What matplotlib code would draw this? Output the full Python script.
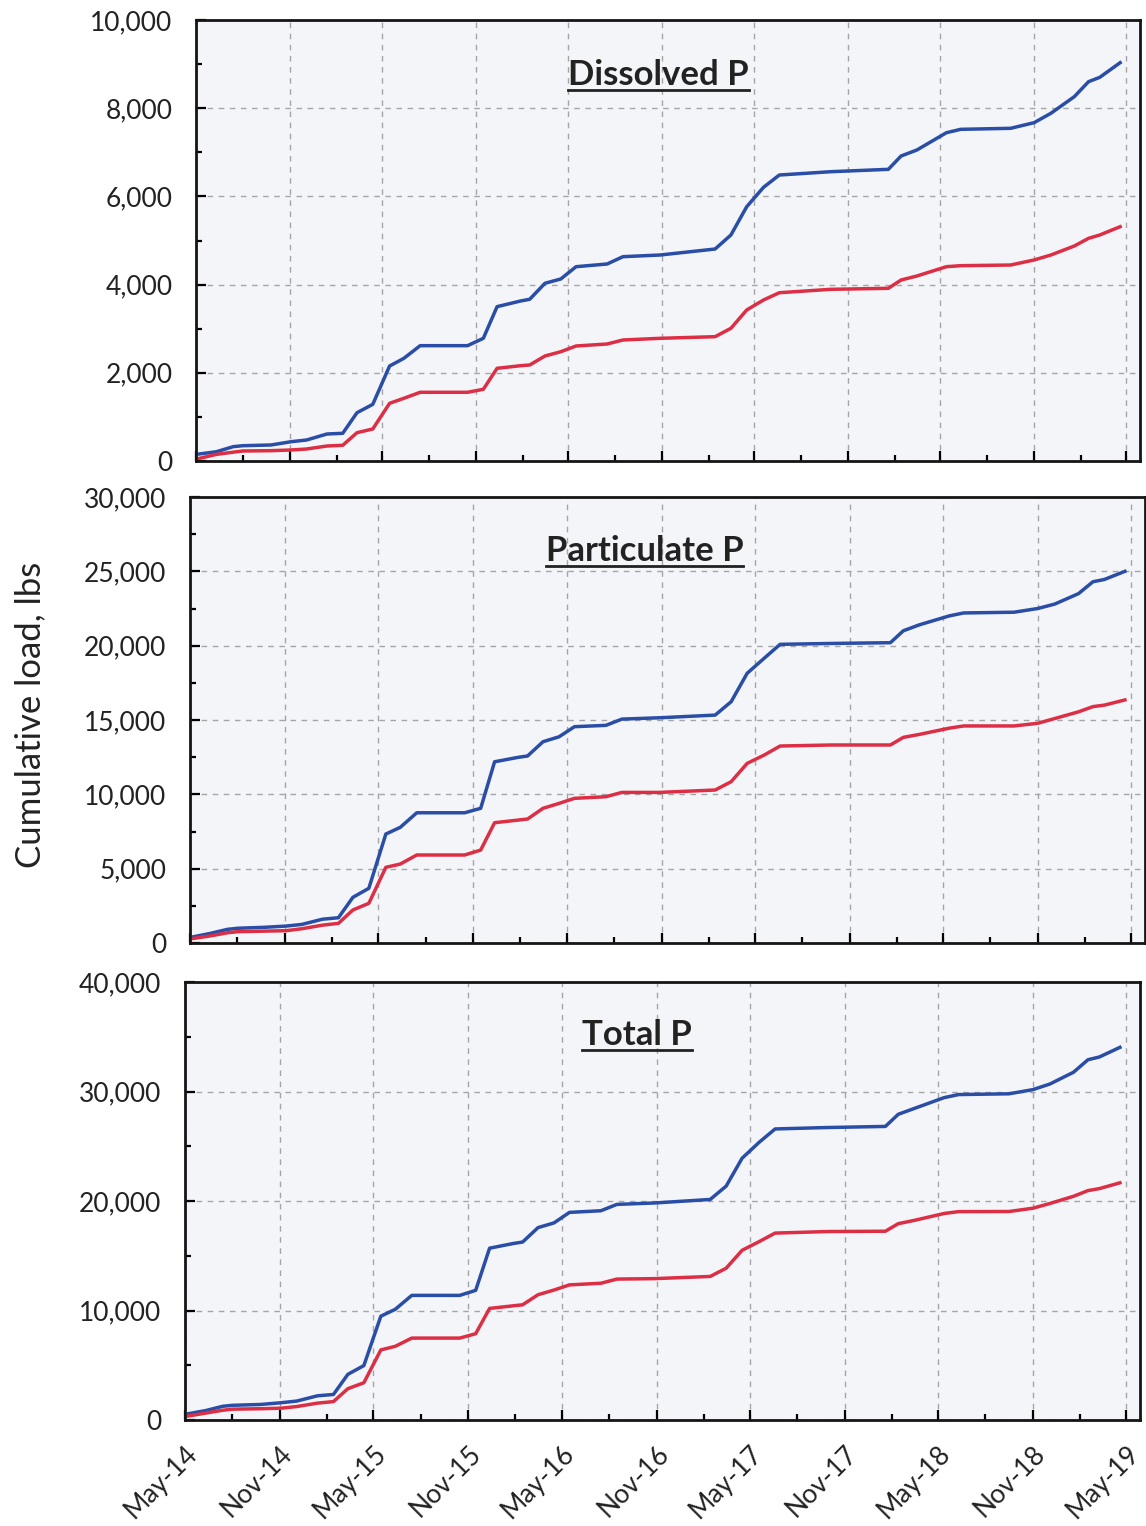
import numpy as np
import pandas as pd
import matplotlib
matplotlib.use('Agg')
import matplotlib.pyplot as plt
import matplotlib.dates as mdates
from matplotlib.lines import Line2D
from matplotlib.ticker import MultipleLocator, FuncFormatter

plt.rcParams['font.family'] = ['Lato', 'DejaVu Sans']

# sample dates (roughly monthly)
dates = pd.to_datetime([
    '2014-05-08', '2014-06-10', '2014-07-13', '2014-08-01', '2014-09-25',
    '2014-11-04', '2014-12-04', '2015-01-13', '2015-02-13', '2015-03-13',
    '2015-04-13', '2015-05-16', '2015-06-13', '2015-07-15', '2015-10-16',
    '2015-11-16', '2015-12-13', '2016-01-28', '2016-02-15', '2016-03-16',
    '2016-04-16', '2016-05-16', '2016-07-16', '2016-08-16', '2016-10-28',
    '2017-02-13', '2017-03-16', '2017-04-16', '2017-05-19', '2017-06-19',
    '2017-09-28', '2018-01-19', '2018-02-13', '2018-03-16', '2018-05-13',
    '2018-06-10', '2018-09-16', '2018-11-01', '2018-12-04', '2019-01-19',
    '2019-02-16', '2019-03-10', '2019-04-19'])

# cumulative loads, lbs  (blue = upper line, red = lower line)
dissolved_blue = [160, 210, 325, 347, 363, 438, 476, 612, 628, 1095,
                  1285, 2154, 2328, 2615, 2615, 2782, 3500, 3628, 3667, 4030,
                  4127, 4406, 4467, 4633, 4671, 4807, 5125, 5766, 6206, 6485,
                  6560, 6614, 6916, 7052, 7444, 7521, 7544, 7671, 7884, 8261,
                  8601, 8700, 9032]
dissolved_red = [60, 150, 200, 227, 234, 250, 272, 340, 356, 642,
                 726, 1308, 1422, 1558, 1558, 1626, 2102, 2161, 2177, 2381,
                 2478, 2608, 2653, 2744, 2782, 2819, 3009, 3424, 3651, 3816,
                 3893, 3916, 4104, 4195, 4406, 4429, 4444, 4558, 4671, 4875,
                 5049, 5125, 5313]

particulate_blue = [420, 650, 920, 990, 1060, 1140, 1250, 1600, 1700, 3070,
                    3680, 7330, 7780, 8760, 8760, 9060, 12190, 12490, 12580, 13540,
                    13870, 14550, 14640, 15060, 15150, 15330, 16230, 18140, 19150, 20090,
                    20150, 20200, 21000, 21400, 22000, 22200, 22250, 22500, 22800, 23500,
                    24300, 24450, 25000]
particulate_red = [310, 480, 690, 760, 800, 830, 960, 1200, 1320, 2220,
                   2670, 5090, 5310, 5920, 5920, 6250, 8090, 8270, 8340, 9060,
                   9390, 9730, 9840, 10130, 10130, 10290, 10850, 12080, 12640, 13250,
                   13320, 13320, 13830, 14030, 14450, 14600, 14600, 14780, 15100, 15550,
                   15900, 16000, 16350]

total_blue = [580, 860, 1250, 1340, 1420, 1580, 1730, 2210, 2330, 4170,
              4970, 9480, 10110, 11380, 11380, 11840, 15690, 16120, 16250, 17570,
              18000, 18960, 19110, 19690, 19820, 20140, 21360, 23910, 25360, 26580,
              26710, 26810, 27920, 28450, 29440, 29720, 29790, 30170, 30680, 31760,
              32900, 33150, 34030]
total_red = [370, 630, 890, 990, 1030, 1080, 1230, 1540, 1680, 2860,
             3400, 6400, 6730, 7480, 7480, 7880, 10190, 10430, 10520, 11440,
             11870, 12340, 12490, 12870, 12910, 13110, 13860, 15500, 16290, 17070,
             17210, 17240, 17930, 18230, 18860, 19030, 19040, 19340, 19770, 20430,
             20950, 21130, 21660]

panels = [
    ('Dissolved P', dissolved_blue, dissolved_red, 10000, 2000),
    ('Particulate P', particulate_blue, particulate_red, 30000, 5000),
    ('Total P', total_blue, total_red, 40000, 10000),
]

W, H = 1146, 1526
# axes boxes in pixels: left, top, right, bottom
boxes = [(196, 20, 1140, 461), (190, 497, 1145, 943), (185, 982, 1140, 1420)]
title_pos = [(0.49, 0.875), (0.476, 0.88), (0.473, 0.88)]

fig = plt.figure(figsize=(W / 100, H / 100), dpi=100)
axes = []
for (name, blue, red, ymax, ystep), (l, t, r, b), tp in zip(panels, boxes, title_pos):
    ax = fig.add_axes([l / W, 1 - b / H, (r - l) / W, (b - t) / H])
    ax.set_facecolor('#f4f5f9')
    ax.plot(dates, blue, color='#2a4da6', lw=2.5, solid_joinstyle='round')
    ax.plot(dates, red, color='#dc2f45', lw=2.5, solid_joinstyle='round')
    ax.set_xlim(pd.Timestamp('2014-05-01'), pd.Timestamp('2019-05-28'))
    ax.set_ylim(0, ymax)
    ax.yaxis.set_major_locator(MultipleLocator(ystep))
    ax.yaxis.set_minor_locator(MultipleLocator(ystep / 2))
    ax.yaxis.set_major_formatter(FuncFormatter(lambda v, p: f'{int(v):,}'))
    ax.xaxis.set_major_locator(mdates.MonthLocator(bymonth=[5, 11]))
    ax.xaxis.set_minor_locator(mdates.MonthLocator(bymonth=[2, 8]))
    ax.xaxis.set_major_formatter(mdates.DateFormatter('%b-%y'))
    ax.grid(True, which='major', color='#a5a5a8', ls=(0, (4, 4)), lw=1.0)
    ax.tick_params(which='both', direction='in', width=1.6, colors='black',
                   labelsize=19, labelcolor='#222222')
    ax.tick_params(which='major', length=7)
    ax.tick_params(axis='y', which='major', pad=17)
    ax.tick_params(axis='x', which='major', pad=15)
    ax.tick_params(which='minor', length=4)
    for s in ax.spines.values():
        s.set_linewidth(2.0)
        s.set_color('#151515')
    txt = ax.text(tp[0], tp[1], name, transform=ax.transAxes, ha='center', va='center',
                  fontsize=25, fontweight='bold', color='#222222')
    axes.append((ax, txt))

for ax, _ in axes[:-1]:
    ax.tick_params(axis='x', labelbottom=False)
for lab in axes[-1][0].get_xticklabels():
    lab.set_rotation(45)
    lab.set_ha('right')
    lab.set_rotation_mode('anchor')

fig.text(30 / W, 1 - 715 / H, 'Cumulative load, lbs', rotation=90, ha='center', va='center',
         fontsize=25, color='#222222')

# underline the panel titles
fig.canvas.draw()
renderer = fig.canvas.get_renderer()
for ax, txt in axes:
    bb = txt.get_window_extent(renderer)
    inv = fig.transFigure.inverted()
    (x0, y0), (x1, _) = inv.transform([(bb.x0, bb.y0 + 1), (bb.x1, bb.y0 + 1)])
    fig.add_artist(Line2D([x0, x1], [y0, y0], transform=fig.transFigure,
                          color='#222222', lw=2.0))

fig.savefig('out.png', dpi=100)
